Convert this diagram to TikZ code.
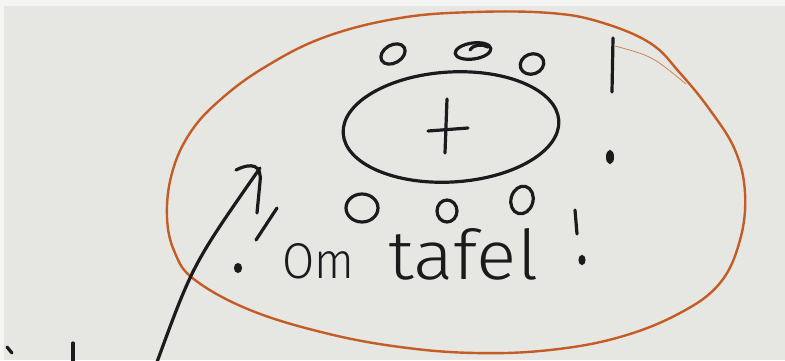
\documentclass[tikz,border=0pt]{standalone}
\usepackage{fontspec}
\newfontfamily\handfont{Fira Sans}[UprightFont=* Light]
\definecolor{paper}{RGB}{230,230,226}
\definecolor{ink}{RGB}{28,26,28}
\definecolor{rust}{RGB}{196,92,38}
\begin{document}
\begin{tikzpicture}[x=1pt,y=-1pt,
  pen/.style={line width=3.2pt, draw=ink, line cap=round, line join=round},
  dotpen/.style={line width=2pt, draw=ink, fill=ink},
  orangepen/.style={line width=2.4pt, draw=rust, line cap=round, line join=round}]
\useasboundingbox (0,0) rectangle (785,360);
\fill[paper] (0,0) rectangle (785,360);
\fill[white!60!paper] (0,0) rectangle (785,6);
\fill[white!60!paper] (0,0) rectangle (4,360);
% orange outer blob
\draw[orangepen] plot[smooth cycle, tension=0.65] coordinates {
  (167,217) (172,173) (190,133) (220,100) (265,67) (325,37) (400,18)
  (475,12) (550,13) (600,22) (650,43) (680,73) (710,110) (735,150)
  (745,193) (740,240) (720,283) (680,313) (620,337) (550,350)
  (475,353) (400,347) (325,333) (250,310) (195,280) (175,253)};
\draw[rust!70!paper, line width=0.8pt] (615,46) .. controls (652,56) .. (686,84);
% black ellipse with plus
\draw[pen, rotate around={3.4:(451,127)}] (451,127) ellipse [x radius=108, y radius=55];
\draw[pen] (447,99) -- (445,153);
\draw[pen] (428,131) -- (468,128);
% top small circles
\draw[pen, rotate around={30:(393,54)}] (393,54) ellipse [x radius=13, y radius=9];
\draw[pen, rotate around={8:(473,51)}] (473,51) ellipse [x radius=18, y radius=8];
\draw[pen] (470,50) .. controls (474,44) and (482,44) .. (488,47);
\draw[pen, rotate around={20:(532,64)}] (532,64) ellipse [x radius=12, y radius=10];
% bottom small circles
\draw[pen] (362,208) ellipse [x radius=16, y radius=14];
\draw[pen] (447,211) ellipse [x radius=10, y radius=11];
\draw[pen, rotate around={-15:(522,200)}] (522,200) ellipse [x radius=11, y radius=14];
% right exclamation
\draw[pen] (613,38) -- (612,92);
\draw[dotpen] (610,157) ellipse [x radius=3, y radius=6];
% exclamation after text
\draw[pen] (575,210) -- (577,234);
\draw[dotpen] (582,260) ellipse [x radius=2.5, y radius=4];
% arrow and question mark
\draw[pen] (157,362) .. controls (193,264) .. (260,168);
\draw[pen] (236,170) .. controls (252,162) and (262,165) .. (260,182) -- (257,213);
\draw[pen] (277,208) -- (256,240);
\draw[dotpen] (238,268) ellipse [x radius=3, y radius=4];
% bottom left marks
\draw[pen] (7,347) -- (12,353);
\draw[pen] (73,343) -- (73,362);
% text
\node[anchor=base west, inner sep=0, text=ink] (om) at (282,278) {\resizebox{72pt}{35pt}{\handfont Om}};
\node[anchor=base west, inner sep=0, text=ink] (tafel) at (388,279) {\resizebox{150pt}{51pt}{\handfont tafel}};
\end{tikzpicture}
\end{document}
